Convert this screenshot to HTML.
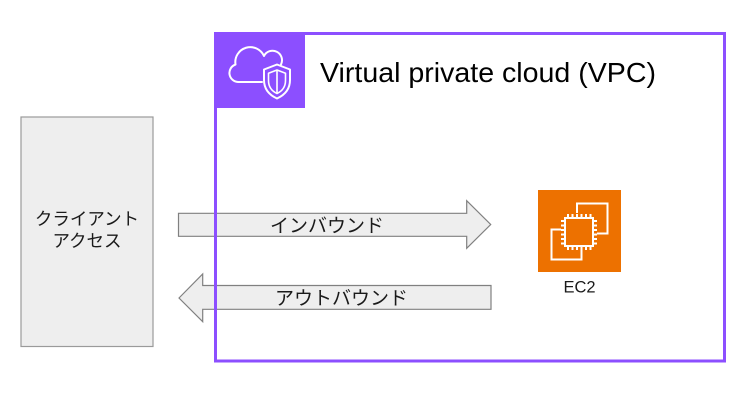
<!DOCTYPE html>
<html>
<head>
<meta charset="utf-8">
<style>
  html, body { margin: 0; padding: 0; background: #ffffff; }
  svg { display: block; }
  text { font-family: "Liberation Sans", "Noto Sans CJK JP", sans-serif; }
</style>
</head>
<body>
<svg width="754" height="400" viewBox="0 0 754 400" xmlns="http://www.w3.org/2000/svg">
  <rect x="0" y="0" width="754" height="400" fill="#ffffff"/>

  <!-- Client box -->
  <rect x="21" y="117" width="132" height="229.5" fill="#eeeeee" stroke="#9a9a9a" stroke-width="1.2"/>
  <text x="87" y="225" font-size="17.5" text-anchor="middle" fill="#1a1a1a">クライアント</text>
  <text x="87" y="247" font-size="17.5" text-anchor="middle" fill="#1a1a1a">アクセス</text>

  <!-- Inbound arrow -->
  <polygon points="178.5,213.3 466.7,213.3 466.7,200.7 490.7,224.5 466.7,248.3 466.7,236.3 178.5,236.3"
           fill="#eeeeee" stroke="#808080" stroke-width="1.2" stroke-linejoin="miter"/>
  <text x="327" y="232" font-size="19" text-anchor="middle" fill="#1a1a1a">インバウンド</text>

  <!-- Outbound arrow -->
  <polygon points="179,298 202.7,274 202.7,285.5 491,285.5 491,309.3 202.7,309.3 202.7,321.7"
           fill="#eeeeee" stroke="#808080" stroke-width="1.2" stroke-linejoin="miter"/>
  <text x="341.5" y="304.5" font-size="19" text-anchor="middle" fill="#1a1a1a">アウトバウンド</text>

  <!-- VPC group border -->
  <rect x="215.5" y="33.5" width="509" height="327.5" fill="none" stroke="#8c4fff" stroke-width="3"/>

  <!-- VPC icon square -->
  <rect x="214" y="32" width="91" height="76" fill="#8c4fff"/>
  <!-- cloud -->
  <path d="M262,82 H238 A9,9 0 0 1 235.5,64.5 A15,15 0 0 1 264,56 A9.5,9.5 0 0 1 281,64.5"
        fill="none" stroke="#ffffff" stroke-width="2" stroke-linecap="round" stroke-linejoin="round"/>
  <!-- shield outer -->
  <path d="M277,64.5 L290,69.5 V80 Q290,92.5 277,98.5 Q264,92.5 264,80 V69.5 Z"
        fill="#8c4fff" stroke="#ffffff" stroke-width="2" stroke-linejoin="round"/>
  <!-- shield inner -->
  <path d="M277,70 L285.5,73.3 V80.5 Q285.5,89.5 277,93.5 Q268.5,89.5 268.5,80.5 V73.3 Z"
        fill="none" stroke="#ffffff" stroke-width="1.6" stroke-linejoin="round"/>
  <line x1="277" y1="70" x2="277" y2="93.5" stroke="#ffffff" stroke-width="1.6"/>

  <!-- VPC title -->
  <text x="320" y="82" font-size="28" fill="#000000" textLength="336" lengthAdjust="spacingAndGlyphs">Virtual private cloud (VPC)</text>

  <!-- EC2 icon -->
  <rect x="538" y="190" width="83" height="82" fill="#ed7100"/>
  <g fill="none" stroke="#ffffff" stroke-width="2" stroke-linejoin="miter">
    <path d="M577,213 V203.5 H607.5 V233.5 H597"/>
    <path d="M581.5,250 V259.5 H551.5 V229.5 H561"/>
    <rect x="565" y="218" width="28" height="28"/>
    <!-- pins top -->
    <path d="M568,218 V214 M572.5,218 V214 M577,218 V214 M581.5,218 V214 M586,218 V214 M590.5,218 V214"/>
    <!-- pins bottom -->
    <path d="M568,246 V250 M572.5,246 V250 M577,246 V250 M581.5,246 V250 M586,246 V250 M590.5,246 V250"/>
    <!-- pins left -->
    <path d="M565,221 H561 M565,225.5 H561 M565,230 H561 M565,234.5 H561 M565,239 H561 M565,243.5 H561"/>
    <!-- pins right -->
    <path d="M593,221 H597 M593,225.5 H597 M593,230 H597 M593,234.5 H597 M593,239 H597 M593,243.5 H597"/>
  </g>
  <text x="579.5" y="292.5" font-size="16.5" text-anchor="middle" fill="#1a1a1a">EC2</text>
</svg>
</body>
</html>
